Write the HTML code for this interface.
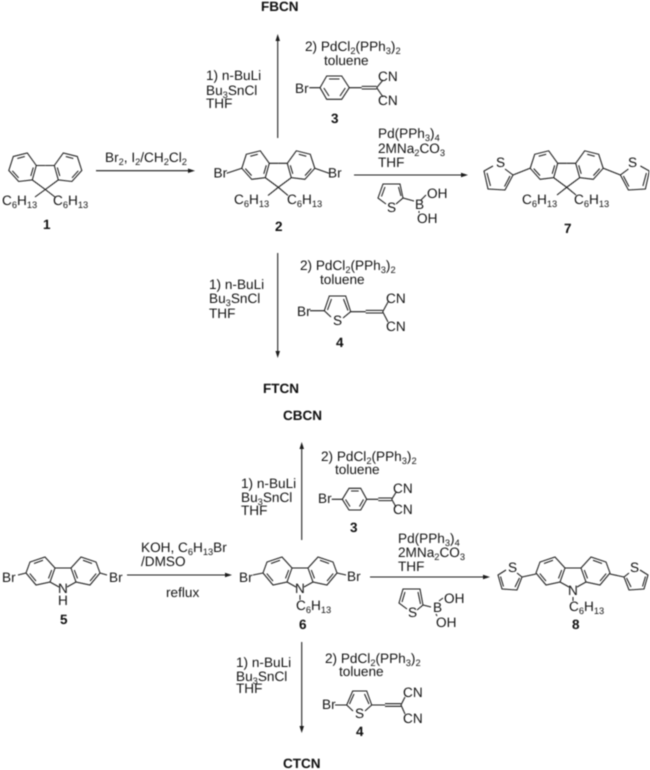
<!DOCTYPE html>
<html><head><meta charset="utf-8"><style>
html,body{margin:0;padding:0;background:#fff}
svg{display:block}
text{font-family:"Liberation Sans",sans-serif;font-size:13.6px;fill:#161616;text-rendering:geometricPrecision}
text.b{font-weight:bold;font-size:13.5px;fill:#0c0c0c}
tspan.s{font-size:9.3px}
.l{fill:none;stroke:#1c1c1c;stroke-width:1.05}
.a{fill:#1c1c1c;stroke:none}
</style></head><body>
<svg width="650" height="770" viewBox="0 0 650 770" xmlns="http://www.w3.org/2000/svg">
<defs>
<filter id="f" x="0" y="0" width="100%" height="100%"><feGaussianBlur stdDeviation="0.4"/></filter>
<g id="flh" class="l"><path d="M-9-24L-18-36.5L-32-33L-36.5-19L-26.6-8L-13-9.6L-9-24L0-24M-13-9.6L0 0M-28-31L-20.5-33M-12-22L-14.5-13.5M-26.7-11.7L-33-18.7"/></g>
<g id="fl"><use href="#flh"/><use href="#flh" transform="scale(-1 1)"/></g>
<g id="cah" class="l"><path d="M-8-22L-18-33L-33-28L-37-17L-27-5L-13-8L-8-22L0-22M-13-8L-4-3M-29-26.5L-20-29.7M-11.3-20L-14.5-11.6M-27-8.9L-33.2-16.4"/></g>
<g id="ca"><use href="#cah"/><use href="#cah" transform="scale(-1 1)"/></g>
<g id="t7" class="l"><path d="M493 166L484 171L488 189L505 190L513 175L505 169M510 176L504.5 186.5M490.5 186L487 173M513 175L530 168.3"/></g>
<g id="t8" class="l"><path d="M506 570L498 575L502 589L517 590L522 577L517 573M519.5 578L515 587M503.5 586.5L500.5 576.5M522 577L536 574"/></g>
</defs>
<rect width="650" height="770" fill="#fff"/>
<g filter="url(#f)">

<!-- arrows -->
<path class="l" d="M96 170.7H192M354 175H465M277.7 138V38M277.7 253V354M127 575H229M370 577H487M301.7 540V446M301.7 642V729"/>
<path class="a" d="M195 170.7L188 168.5V173ZM468 175L461 172.8V177.2ZM277.7 34L275.5 41H280ZM277.7 358L275.5 351H280ZM232 575L225 572.8V577.2ZM490 577L483 574.8V579.2ZM301.7 442L299.5 449H304ZM301.7 733L299.5 726H304Z"/>

<!-- compound 1 -->
<use href="#fl" transform="translate(45.3 189.5)"/>
<path class="l" d="M45.3 189.5L35 197M45.3 189.5L55 197"/>
<text x="2" y="205">C<tspan class="s" dy="3">6</tspan><tspan dy="-3">H</tspan><tspan class="s" dy="3">13</tspan></text>
<text x="53" y="205">C<tspan class="s" dy="3">6</tspan><tspan dy="-3">H</tspan><tspan class="s" dy="3">13</tspan></text>
<text class="b" x="43" y="229">1</text>
<text x="105" y="162">Br<tspan class="s" dy="3">2</tspan><tspan dy="-3">, I</tspan><tspan class="s" dy="3">2</tspan><tspan dy="-3">/CH</tspan><tspan class="s" dy="3">2</tspan><tspan dy="-3">Cl</tspan><tspan class="s" dy="3">2</tspan></text>

<!-- compound 2 -->
<use href="#fl" transform="translate(278.3 187.3)"/>
<path class="l" d="M278.3 187.3L268 195.5M278.3 187.3L288 195.5M241.8 168.3L226.7 173.3M314.8 168.3L329 173.3"/>
<text x="213.5" y="177.5">Br</text>
<text x="328" y="177.5">Br</text>
<text x="234" y="204">C<tspan class="s" dy="3">6</tspan><tspan dy="-3">H</tspan><tspan class="s" dy="3">13</tspan></text>
<text x="287" y="204">C<tspan class="s" dy="3">6</tspan><tspan dy="-3">H</tspan><tspan class="s" dy="3">13</tspan></text>
<text class="b" x="275" y="231">2</text>

<!-- top branch -->
<text class="b" x="261" y="11">FBCN</text>
<text x="305" y="51">2) PdCl<tspan class="s" dy="3">2</tspan><tspan dy="-3">(PPh</tspan><tspan class="s" dy="3">3</tspan><tspan dy="-3">)</tspan><tspan class="s" dy="3">2</tspan></text>
<text x="324" y="65">toluene</text>
<text x="206" y="80">1) n-BuLi</text>
<text x="206" y="95">Bu<tspan class="s" dy="3">3</tspan><tspan dy="-3">SnCl</tspan></text>
<text x="206" y="108">THF</text>
<text x="295" y="93">Br</text>
<path class="l" d="M309.3 87.7H320L326.7 76H341.7L349.3 87.7L341.7 99.3H326.7L320 87.7M329 79H339.5M345.3 88L340 96M323.8 88L329 96M349.3 87.7H361.7M361.7 86.4H376.7M361.7 89H376.7M376.7 87.7L383 80M376.7 87.7L383 97"/>
<text x="378" y="81">CN</text>
<text x="378" y="105">CN</text>
<text class="b" x="331" y="123">3</text>

<!-- lower branch -->
<text x="300" y="270">2) PdCl<tspan class="s" dy="3">2</tspan><tspan dy="-3">(PPh</tspan><tspan class="s" dy="3">3</tspan><tspan dy="-3">)</tspan><tspan class="s" dy="3">2</tspan></text>
<text x="320" y="284">toluene</text>
<text x="209" y="289">1) n-BuLi</text>
<text x="209" y="303">Bu<tspan class="s" dy="3">3</tspan><tspan dy="-3">SnCl</tspan></text>
<text x="209" y="318">THF</text>
<text x="297" y="316">Br</text>
<path class="l" d="M310 310.7H324.3L329.3 296H345.7L350.7 311.7L343 318M324.3 310.7L331 317M327.5 310L331.5 299M348 310.5L343.5 299M350.7 311.7H365.7M365.7 310.4H382.7M365.7 313H382.7M382.7 311.7L388 302M382.7 311.7L388 322"/>
<text x="333" y="325">S</text>
<text x="386" y="303">CN</text>
<text x="386" y="331">CN</text>
<text class="b" x="336" y="347">4</text>
<text class="b" x="263" y="393">FTCN</text>

<!-- Suzuki top -->
<text x="378" y="138">Pd(PPh<tspan class="s" dy="3">3</tspan><tspan dy="-3">)</tspan><tspan class="s" dy="3">4</tspan></text>
<text x="378" y="153">2MNa<tspan class="s" dy="3">2</tspan><tspan dy="-3">CO</tspan><tspan class="s" dy="3">3</tspan></text>
<text x="378" y="167">THF</text>
<path class="l" d="M386 204L378 198L383 184H400L403 198L396 204M401 196L398.5 187M385 187L381.5 196.5M403 198L414 201M421 200L426 195M419 211L419 213"/>
<text x="387" y="212">S</text>
<text x="415" y="209">B</text>
<text x="427" y="198">OH</text>
<text x="417" y="223">OH</text>

<!-- compound 7 -->
<use href="#fl" transform="translate(566.7 187.3)"/>
<path class="l" d="M566.7 187.3L557 195M566.7 187.3L576 195"/>
<use href="#t7"/>
<use href="#t7" transform="translate(1133.4 0) scale(-1 1)"/>
<text x="496" y="167">S</text>
<text x="628" y="167">S</text>
<text x="522" y="204">C<tspan class="s" dy="3">6</tspan><tspan dy="-3">H</tspan><tspan class="s" dy="3">13</tspan></text>
<text x="574" y="204">C<tspan class="s" dy="3">6</tspan><tspan dy="-3">H</tspan><tspan class="s" dy="3">13</tspan></text>
<text class="b" x="564" y="233">7</text>

<!-- compound 5 -->
<use href="#ca" transform="translate(63 590)"/>
<path class="l" d="M26 573L18 575M100 573L107 575"/>
<text x="2" y="582">Br</text>
<text x="109" y="582">Br</text>
<text x="58" y="593">N</text>
<text x="58" y="605">H</text>
<text class="b" x="60" y="624">5</text>
<text x="141" y="552">KOH, C<tspan class="s" dy="3">6</tspan><tspan dy="-3">H</tspan><tspan class="s" dy="3">13</tspan><tspan dy="-3">Br</tspan></text>
<text x="141" y="566">/DMSO</text>
<text x="166" y="597">reflux</text>

<!-- compound 6 -->
<use href="#ca" transform="translate(300 590)"/>
<path class="l" d="M263 573L253 575M337 573L346 575"/>
<text x="239" y="582">Br</text>
<text x="347" y="581">Br</text>
<text x="295" y="593">N</text>
<path class="l" d="M300 595L300 600"/>
<text x="296" y="610">C<tspan class="s" dy="3">6</tspan><tspan dy="-3">H</tspan><tspan class="s" dy="3">13</tspan></text>
<text class="b" x="299" y="629">6</text>

<!-- carbazole top branch -->
<text class="b" x="283" y="420">CBCN</text>
<text x="321" y="461">2) PdCl<tspan class="s" dy="3">2</tspan><tspan dy="-3">(PPh</tspan><tspan class="s" dy="3">3</tspan><tspan dy="-3">)</tspan><tspan class="s" dy="3">2</tspan></text>
<text x="335" y="474">toluene</text>
<text x="241" y="488">1) n-BuLi</text>
<text x="241" y="502">Bu<tspan class="s" dy="3">3</tspan><tspan dy="-3">SnCl</tspan></text>
<text x="241" y="515">THF</text>
<text x="318" y="503">Br</text>
<path class="l" d="M331.7 499.3H342.3L349 488.3H360.7L366.7 499.3L360.7 510H349L342.3 499.3M351 491H358.7M363.5 499.5L359.5 506.5M345.5 499.5L350 506.5M366.7 499.3H378.3M378.3 498H391.7M378.3 500.6H391.7M391.7 499.3L396 492.3M391.7 499.3L396 507"/>
<text x="393" y="493">CN</text>
<text x="393" y="514">CN</text>
<text class="b" x="350" y="532">3</text>

<!-- carbazole bottom branch -->
<text x="325" y="663">2) PdCl<tspan class="s" dy="3">2</tspan><tspan dy="-3">(PPh</tspan><tspan class="s" dy="3">3</tspan><tspan dy="-3">)</tspan><tspan class="s" dy="3">2</tspan></text>
<text x="339" y="676">toluene</text>
<text x="236" y="667">1) n-BuLi</text>
<text x="236" y="681">Bu<tspan class="s" dy="3">3</tspan><tspan dy="-3">SnCl</tspan></text>
<text x="236" y="693">THF</text>
<text x="322" y="709">Br</text>
<path class="l" d="M335 705H346.7L352.7 691H366.7L371.7 705L365 711M346.7 705L353 711M349.5 704L354 694M369 704L364.5 694M371.7 705H385M385 703.7H401M385 706.3H401M401 705L405 697M401 705L405 714"/>
<text x="355" y="718">S</text>
<text x="403" y="697">CN</text>
<text x="403" y="723">CN</text>
<text class="b" x="356" y="736">4</text>
<text class="b" x="283" y="768">CTCN</text>

<!-- Suzuki bottom -->
<text x="398" y="543">Pd(PPh<tspan class="s" dy="3">3</tspan><tspan dy="-3">)</tspan><tspan class="s" dy="3">4</tspan></text>
<text x="398" y="557">2MNa<tspan class="s" dy="3">2</tspan><tspan dy="-3">CO</tspan><tspan class="s" dy="3">3</tspan></text>
<text x="398" y="571">THF</text>
<path class="l" d="M407 609L399 603L403 589H420L423 605L417 610M420.5 604L418 592M405 592L402 602M423 605L431 607M439 601L443 598M436 614L437 616"/>
<text x="408" y="617">S</text>
<text x="433" y="612">B</text>
<text x="444" y="603">OH</text>
<text x="436" y="627">OH</text>

<!-- compound 8 -->
<use href="#ca" transform="translate(573 590)"/>
<use href="#t8"/>
<use href="#t8" transform="translate(1146 0) scale(-1 1)"/>
<text x="508" y="572">S</text>
<text x="630" y="572">S</text>
<text x="568" y="595">N</text>
<path class="l" d="M573 597L573 601"/>
<text x="569" y="611">C<tspan class="s" dy="3">6</tspan><tspan dy="-3">H</tspan><tspan class="s" dy="3">13</tspan></text>
<text class="b" x="572" y="629">8</text>
</g>
</svg>
</body></html>
